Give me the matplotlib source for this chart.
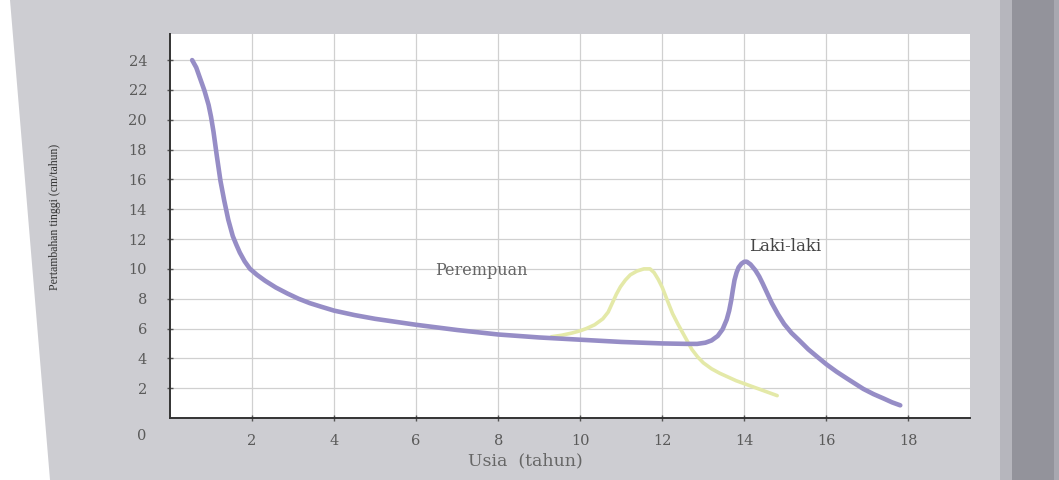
import matplotlib
matplotlib.use("Agg")
from matplotlib import pyplot as plt
from matplotlib.patches import Polygon, Rectangle

# growth velocity curves
male_age = [0.54, 0.64, 0.73, 0.84, 0.94, 1.0, 1.06, 1.14, 1.23, 1.32, 1.42, 1.53,
            1.62, 1.7, 1.82, 1.95, 2.12, 2.32, 2.58, 2.86, 3.13, 3.41, 3.7, 4.0,
            4.5, 5.0, 5.5, 6.0, 7.0, 8.0, 9.0, 10.0, 11.0, 12.0, 12.6, 12.85, 13.05,
            13.2, 13.35, 13.47, 13.57, 13.63, 13.68, 13.72, 13.76, 13.81, 13.86, 13.93,
            14.0, 14.06, 14.15, 14.27, 14.36, 14.45, 14.56, 14.67, 14.82, 14.97, 15.15,
            15.34, 15.56, 15.8, 16.0, 16.25, 16.5, 16.7, 16.9, 17.15, 17.4, 17.6, 17.8]
male_rate = [24.0, 23.5, 22.8, 21.95, 21.0, 20.2, 19.2, 17.6, 15.9, 14.6, 13.3, 12.2,
             11.6, 11.1, 10.5, 10.0, 9.6, 9.2, 8.75, 8.35, 8.0, 7.7, 7.45, 7.2,
             6.9, 6.65, 6.45, 6.25, 5.9, 5.6, 5.4, 5.25, 5.1, 5.0, 4.97, 4.97, 5.05,
             5.2, 5.5, 5.95, 6.6, 7.2, 7.9, 8.6, 9.25, 9.75, 10.1, 10.35,
             10.48, 10.48, 10.3, 9.9, 9.5, 9.0, 8.35, 7.7, 6.95, 6.3, 5.7,
             5.2, 4.6, 4.05, 3.6, 3.1, 2.65, 2.3, 1.95, 1.6, 1.3, 1.05, 0.85]

female_age = [9.3, 9.55, 9.8, 10.0, 10.15, 10.35, 10.55, 10.68, 10.78, 10.88, 10.98,
              11.1, 11.22, 11.38, 11.55, 11.7, 11.8, 11.9, 12.0, 12.12, 12.25, 12.38,
              12.5, 12.62, 12.72, 12.86, 13.0, 13.2, 13.4, 13.6, 13.8, 14.0, 14.2,
              14.5, 14.8]
female_rate = [5.45, 5.55, 5.7, 5.85, 6.0, 6.25, 6.65, 7.1, 7.7, 8.3, 8.8,
               9.25, 9.6, 9.85, 10.0, 10.0, 9.75, 9.3, 8.75, 7.9, 7.0, 6.3,
               5.7, 5.1, 4.6, 4.1, 3.7, 3.3, 3.0, 2.75, 2.5, 2.3, 2.1,
               1.8, 1.5]

x_ticks = [2, 4, 6, 8, 10, 12, 14, 16, 18]
y_ticks = [2, 4, 6, 8, 10, 12, 14, 16, 18, 20, 22, 24]

W, H = 1059, 480
fig = plt.figure(figsize=(W / 100, H / 100), dpi=100, facecolor="white")

# page background: grey sheet with a darker binding strip on the right
fig.patches.append(Polygon([[10 / W, 1], [50 / W, 0], [1, 0], [1, 1]], closed=True,
                           transform=fig.transFigure, facecolor="#cdcdd2", edgecolor="none", zorder=-5))
fig.patches.append(Rectangle((1012 / W, 0), 42 / W, 1, transform=fig.transFigure,
                             facecolor="#93939b", edgecolor="none", zorder=-5))
fig.patches.append(Rectangle((1000 / W, 0), 12 / W, 1, transform=fig.transFigure,
                             facecolor="#b6b6bd", edgecolor="none", zorder=-5))
fig.patches.append(Rectangle((1054 / W, 0), 5 / W, 1, transform=fig.transFigure,
                             facecolor="#a8a8b0", edgecolor="none", zorder=-5))

ax = fig.add_axes([170 / W, 1 - 418 / H, 800 / W, 384 / H])
ax.set_facecolor("white")
ax.set_xlim(0, 19.5)
ax.set_ylim(0, 25.75)

ax.plot(female_age, female_rate, color="#e4e9a8", lw=2.6, solid_capstyle="round",
        solid_joinstyle="round", zorder=3)
ax.plot(male_age, male_rate, color="#968dc6", lw=3.3, solid_capstyle="round",
        solid_joinstyle="round", zorder=4)

ax.set_xticks(x_ticks)
ax.set_yticks(y_ticks)
ax.grid(True, color="#d0d0d0", lw=0.9)
ax.set_axisbelow(True)

for s in ["top", "right"]:
    ax.spines[s].set_visible(False)
for s in ["left", "bottom"]:
    ax.spines[s].set_color("#333333")
    ax.spines[s].set_linewidth(1.4)

ax.tick_params(axis="both", direction="inout", length=5, width=1, color="#555555",
               labelcolor="#5a5a5a", labelsize=10.5)
ax.tick_params(axis="y", pad=14)
ax.tick_params(axis="x", pad=9)
for lbl in ax.get_xticklabels() + ax.get_yticklabels():
    lbl.set_family("DejaVu Serif")

ax.text(-0.7, -1.2, "0", ha="center", va="center", fontsize=10.5, color="#5a5a5a",
        family="DejaVu Serif", clip_on=False)

ax.text(7.6, 9.9, "Perempuan", ha="center", va="center", fontsize=11.5,
        color="#666666", family="DejaVu Serif")
ax.text(15.0, 11.5, "Laki-laki", ha="center", va="center", fontsize=12,
        color="#444444", family="DejaVu Serif")

ax.set_xlabel("Usia  (tahun)", fontsize=12.5, color="#666666", family="DejaVu Serif")
ax.xaxis.set_label_coords((525 - 170) / 800, (418 - 452) / 384)
ax.set_ylabel("Pertambahan tinggi (cm/tahun)", fontsize=8.5, color="#333333",
              family="Liberation Serif")
ax.yaxis.set_label_coords((61 - 170) / 800, (418 - 217) / 384)

fig.savefig("out.png", dpi=100)
